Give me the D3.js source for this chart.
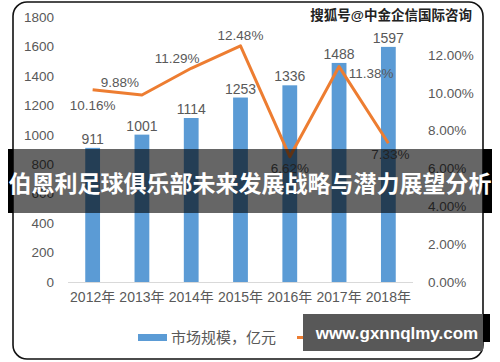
<!DOCTYPE html>
<html>
<head>
<meta charset="utf-8">
<script src="https://cdn.jsdelivr.net/npm/d3@7"></script>
<style>
  body { margin: 0; background: #fff; }
  svg { display: block; }
  text { font-family: "Liberation Sans", "Noto Sans CJK SC", sans-serif; }
</style>
</head>
<body>
<div id="content"></div>
<script>
// chart data
const years = ['2012年', '2013年', '2014年', '2015年', '2016年', '2017年', '2018年'];
const marketSize = [911, 1001, 1114, 1253, 1336, 1488, 1597];
const growthRate = [10.16, 9.88, 11.29, 12.48, 6.62, 11.38, 7.33];
const leftTicks = [0, 200, 400, 600, 800, 1000, 1200, 1400, 1600, 1800];
const rightTicks = [0, 2, 4, 6, 8, 10, 12];

const title = '伯恩利足球俱乐部未来发展战略与潜力展望分析';
const topMark = '搜狐号@中金企信国际咨询';
const bottomMark = 'www.gxnnqlmy.com';

const width = 500, height = 362;
const textGrey = '#595959';

const svg = d3.select('#content').append('svg')
    .attr('width', width)
    .attr('height', height);

// frame
svg.append('rect')
    .attr('x', 13).attr('y', 2)
    .attr('width', 470).attr('height', 357)
    .attr('rx', 14)
    .attr('fill', '#fff')
    .attr('stroke', '#111')
    .attr('stroke-width', 1.6);

const x = d3.scaleBand()
    .domain(years)
    .range([68, 413])
    .paddingInner(0.7)
    .paddingOuter(0.35);

const yLeft = d3.scaleLinear().domain([0, 1800]).range([282, 17]);
const yRight = d3.scaleLinear().domain([0, 14]).range([282, 17]);

// left axis
const gl = svg.append('g')
    .attr('transform', 'translate(54,0)')
    .call(d3.axisLeft(yLeft).tickValues(leftTicks).tickSize(0).tickPadding(0)
        .tickFormat(d => String(d)));
gl.select('.domain').remove();
gl.selectAll('text').attr('fill', textGrey).attr('font-size', 13.5);

// right axis
const gr = svg.append('g')
    .attr('transform', 'translate(428,0)')
    .call(d3.axisRight(yRight).tickValues(rightTicks).tickSize(0).tickPadding(0)
        .tickFormat(d => d.toFixed(2) + '%'));
gr.select('.domain').remove();
gr.selectAll('text').attr('fill', textGrey).attr('font-size', 13.5);

// bars
svg.append('g').selectAll('rect')
    .data(marketSize)
    .join('rect')
    .attr('x', (d, i) => x(years[i]))
    .attr('width', x.bandwidth())
    .attr('y', d => yLeft(d))
    .attr('height', d => yLeft(0) - yLeft(d))
    .attr('fill', '#5b9bd5');

// x axis
const gx = svg.append('g')
    .attr('transform', 'translate(0,282)')
    .call(d3.axisBottom(x).tickSize(0).tickPadding(10));
gx.select('.domain').attr('stroke', '#d9d9d9').attr('stroke-width', 1.2)
    .attr('d', 'M68,0.5H413');
gx.selectAll('text').attr('fill', textGrey).attr('font-size', 14);

// bar labels
svg.append('g').selectAll('text')
    .data(marketSize)
    .join('text')
    .attr('x', (d, i) => x(years[i]) + x.bandwidth() / 2)
    .attr('y', d => yLeft(d) - 4)
    .attr('text-anchor', 'middle')
    .attr('font-size', 14)
    .attr('fill', textGrey)
    .text(d => d);

// growth line
const cx = i => x(years[i]) + x.bandwidth() / 2;
const line = d3.line()
    .x((d, i) => cx(i))
    .y(d => yRight(d));

svg.append('path')
    .datum(growthRate)
    .attr('d', line)
    .attr('fill', 'none')
    .attr('stroke', '#ed7d31')
    .attr('stroke-width', 3)
    .attr('stroke-linejoin', 'round');

// label offsets (dx, dy) relative to each point, as placed in the original
const labelShift = [[0, 20], [-22, -8], [-14, -5], [0, -6], [0, 16], [32, 11], [2, 16]];
svg.append('g').selectAll('text')
    .data(growthRate)
    .join('text')
    .attr('x', (d, i) => cx(i) + labelShift[i][0])
    .attr('y', (d, i) => yRight(d) + labelShift[i][1])
    .attr('text-anchor', 'middle')
    .attr('font-size', 13.5)
    .attr('fill', textGrey)
    .text(d => d.toFixed(2) + '%');

// legend
svg.append('rect')
    .attr('x', 138).attr('y', 334)
    .attr('width', 29).attr('height', 7)
    .attr('fill', '#5b9bd5');
svg.append('text')
    .attr('x', 171).attr('y', 343)
    .attr('font-size', 15)
    .attr('fill', textGrey)
    .text('市场规模，亿元');
svg.append('line')
    .attr('x1', 297).attr('x2', 326)
    .attr('y1', 337.5).attr('y2', 337.5)
    .attr('stroke', '#ed7d31')
    .attr('stroke-width', 3);
svg.append('text')
    .attr('x', 330).attr('y', 343)
    .attr('font-size', 15)
    .attr('fill', textGrey)
    .text('增长率');

// title banner
svg.append('rect')
    .attr('x', 13).attr('y', 149)
    .attr('width', 470).attr('height', 64)
    .attr('fill', 'rgba(0,0,0,0.6)');
svg.append('rect')
    .attr('x', 8).attr('y', 149)
    .attr('width', 5).attr('height', 64)
    .attr('fill', '#000');
svg.append('rect')
    .attr('x', 483).attr('y', 149)
    .attr('width', 9).attr('height', 64)
    .attr('fill', '#000');
svg.append('text')
    .attr('x', 250).attr('y', 192)
    .attr('text-anchor', 'middle')
    .attr('font-size', 23)
    .attr('font-weight', 'bold')
    .attr('font-family', '"Noto Sans CJK SC", sans-serif')
    .attr('fill', '#fff')
    .text(title);

// top watermark
svg.append('text')
    .attr('x', 472).attr('y', 20)
    .attr('text-anchor', 'end')
    .attr('font-size', 13.5)
    .attr('font-weight', 'bold')
    .attr('font-family', '"Noto Sans CJK SC", sans-serif')
    .attr('fill', '#222')
    .attr('stroke', '#fff')
    .attr('stroke-width', 2.5)
    .attr('paint-order', 'stroke')
    .text(topMark);

// bottom watermark (covers the second legend entry, as in the original)
svg.append('rect')
    .attr('x', 303).attr('y', 314)
    .attr('width', 180).attr('height', 37)
    .attr('fill', '#585858');
svg.append('rect')
    .attr('x', 483).attr('y', 314)
    .attr('width', 7).attr('height', 28)
    .attr('fill', '#000');
svg.append('text')
    .attr('x', 397).attr('y', 339)
    .attr('text-anchor', 'middle')
    .attr('font-size', 17)
    .attr('font-weight', 'bold')
    .attr('fill', '#fff')
    .text(bottomMark);
</script>
</body>
</html>
